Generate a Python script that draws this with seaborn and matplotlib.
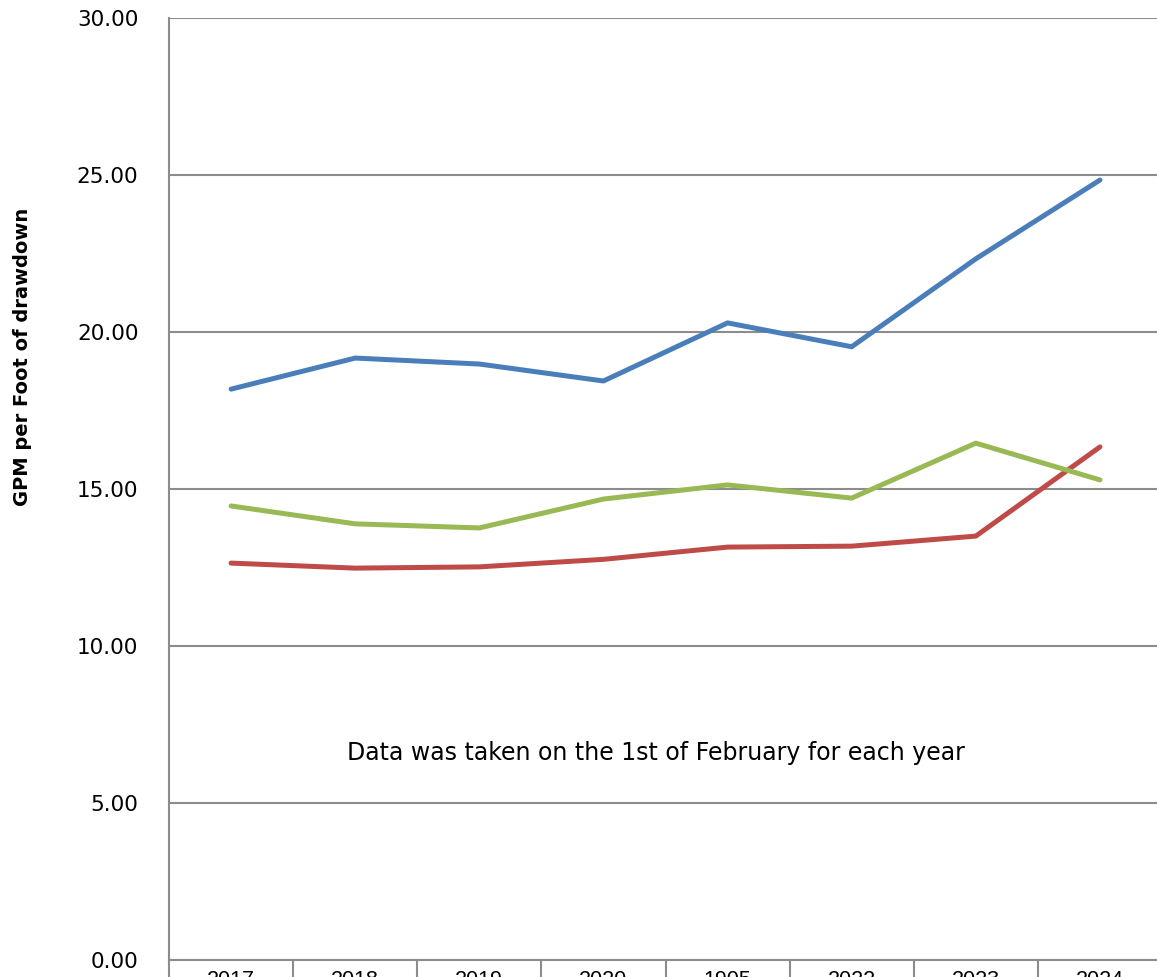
import numpy as np
import pandas as pd
import matplotlib
matplotlib.use("Agg")
import matplotlib.pyplot as plt
import seaborn as sns
from matplotlib.ticker import FormatStrFormatter, FixedLocator

# values
years = ["2017", "2018", "2019", "2020", "1905", "2022", "2023", "2024"]
well_blue = [18.18, 19.17, 18.98, 18.44, 20.29, 19.53, 22.33, 24.84]
well_red = [12.64, 12.48, 12.52, 12.76, 13.15, 13.18, 13.50, 16.34]
well_green = [14.46, 13.89, 13.76, 14.68, 15.13, 14.71, 16.46, 15.29]
series_names = ["Series 1", "Series 2", "Series 3"]
colors = ["#4A7EBB", "#BE4B48", "#98B954"]

df = pd.DataFrame({
    "idx": list(range(len(years))) * 3,
    "value": well_blue + well_red + well_green,
    "series": [s for s in series_names for _ in years],
})

sns.set_style("white")
plt.rcParams["font.family"] = ["DejaVu Sans"]
plt.rcParams["text.color"] = "black"
plt.rcParams["axes.labelcolor"] = "black"
plt.rcParams["xtick.color"] = "black"
plt.rcParams["ytick.color"] = "black"

fig = plt.figure(figsize=(11.57, 9.77), dpi=100)
ax = fig.add_axes([169 / 1157, 17 / 977, 993 / 1157, 942 / 977])

sns.lineplot(data=df, x="idx", y="value", hue="series", palette=colors,
             linewidth=3.6, legend=False, ax=ax, solid_capstyle="round")

ax.set_xlim(-0.5, len(years) - 0.5)
ax.set_ylim(0, 30)
ax.set_yticks(np.arange(0, 31, 5))
ax.yaxis.set_major_formatter(FormatStrFormatter("%.2f"))
ax.grid(axis="y", color="#8C8C8C", linewidth=1.5)
ax.set_axisbelow(True)

ax.set_xticks(range(len(years)))
ax.set_xticklabels(years, fontfamily="Liberation Sans", fontsize=15.5)
ax.xaxis.set_minor_locator(FixedLocator(np.arange(-0.5, len(years), 1)))
ax.tick_params(axis="x", which="major", bottom=True, length=0, pad=7)
ax.tick_params(axis="x", which="minor", bottom=True, length=16, width=1.5,
               color="#8C8C8C", direction="out")
ax.tick_params(axis="y", length=0, pad=22, labelsize=15.5)

for side in ["top", "right"]:
    ax.spines[side].set_visible(False)
for side in ["left", "bottom"]:
    ax.spines[side].set_color("#8C8C8C")
    ax.spines[side].set_linewidth(1.5)

ax.set_xlabel("")
ax.set_ylabel("GPM per Foot of drawdown", fontsize=14, fontweight="bold")
ax.yaxis.set_label_coords(-0.138, 0.64)

ax.text(3.42, 6.6, "Data was taken on the 1st of February for each year",
        ha="center", va="center", fontsize=17)

fig.savefig("out.png", dpi=100)
